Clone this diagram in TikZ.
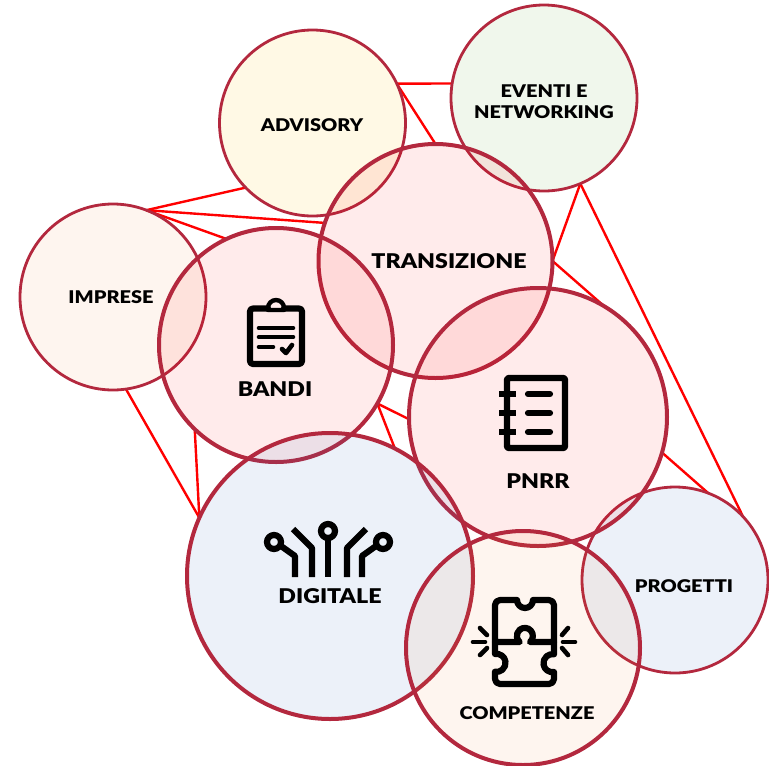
\documentclass[tikz,border=0pt]{standalone}
\usepackage{fontspec}
\setmainfont{Lato}[BoldFont={Lato Black},BoldFeatures={FakeStretch=1.14}]
\definecolor{ringc}{HTML}{B3283E}
\definecolor{linkc}{HTML}{FF0000}
\definecolor{fillred}{HTML}{FF0000}
\definecolor{fillgold}{HTML}{FFC000}
\definecolor{fillgreen}{HTML}{70AD47}
\definecolor{fillorange}{HTML}{ED7D31}
\definecolor{fillblue}{HTML}{4472C4}
\tikzset{
  ball/.style={circle,draw=ringc,outer sep=0pt,inner sep=0pt,fill opacity=.1},
  thinball/.style={ball,line width=2.8pt},
  thickball/.style={ball,line width=4pt},
  link/.style={draw=linkc,line width=2.4pt},
  small/.style={font=\fontsize{17.5}{21}\selectfont\bfseries,align=center,text=black,inner sep=0pt},
  big/.style={font=\fontsize{20.3}{24}\selectfont\bfseries,align=center,text=black,inner sep=0pt},
  icon/.style={draw=black,line width=6.2pt,line cap=round,line join=round},
  iconb/.style={icon,line cap=butt},
  icont/.style={icon,line width=4.6pt},
}
\begin{document}
\begin{tikzpicture}[x=1pt,y=-1pt]
\useasboundingbox (0,0) rectangle (769,766);
\foreach \n/\x/\y/\r in {adv/312.5/123/93,eve/544/98/93,tra/435.5/261/117,imp/113/297/93,ban/276/345/117,pnr/538/417/129,dig/330/576/143,com/523/648/117,pro/675/580/93}
  \node[circle,outer sep=0pt,inner sep=0pt,minimum size=2*\r pt] (\n) at (\x,\y) {};
\draw[link] (adv.25.9) -- (eve.171.4);
\draw[link] (adv.25.9) -- (tra.90);
\draw[link] (imp.69.2) -- (adv.224.3);
\draw[link] (imp.69.2) -- (tra.161.5);
\draw[link] (imp.69.2) -- (ban.115.3);
\draw[link] (eve.-67.8) -- (tra.-0.5);
\draw[link] (eve.-67.8) -- (pro.43.7);
\draw[link] (tra.-0.5) -- (pnr.59.1);
\draw[link] (ban.-30.2) -- (pnr.181);
\draw[link] (ban.-30.2) -- (dig.63.1);
\draw[link] (ban.226.4) -- (dig.156.3);
\draw[link] (imp.-82.6) -- (dig.156.3);
\draw[link] (pnr.-16) -- (pro.69);
% circles
\node[thinball,fill=fillgold,minimum size=186pt] (advc) at (adv) {};
\node[thinball,fill=fillgreen,minimum size=186pt] (evec) at (eve) {};
\node[thinball,fill=fillorange,fill opacity=.08,minimum size=186pt] (impc) at (imp) {};
\node[thinball,fill=fillblue,minimum size=186pt] (proc) at (pro) {};
\node[thickball,fill=fillred,fill opacity=.08,minimum size=234pt] (trac) at (tra) {};
\node[thickball,fill=fillred,fill opacity=.08,minimum size=234pt] (banc) at (ban) {};
\node[thickball,fill=fillred,fill opacity=.08,minimum size=258pt] (pnrc) at (pnr) {};
\node[thickball,fill=fillblue,minimum size=286pt] (digc) at (dig) {};
\node[thickball,fill=fillorange,fill opacity=.08,minimum size=234pt] (comc) at (com) {};
% labels
\node[small] (ladv) at (312,125) {ADVISORY};
\node[small] (leve) at (544,101.5) {EVENTI E\\NETWORKING};
\node[small] (limp) at (111,297) {IMPRESE};
\node[small] (lpro) at (684,586) {PROGETTI};
\node[small] (lcom) at (527,713) {COMPETENZE};
\node[big] (ltra) at (449,261) {TRANSIZIONE};
\node[big] (lban) at (275,389) {BANDI};
\node[big] (lpnr) at (538,481) {PNRR};
\node[big] (ldig) at (330,596) {DIGITALE};
% clipboard icon
\draw[icon,rounded corners=3pt] (268,308.5) -- (250,308.5) -- (250,364) -- (302,364) -- (302,308.5) -- (284,308.5);
\draw[icon,line width=4.4pt] (268,310) -- (268,308) arc[start angle=180,end angle=360,radius=8] -- (284,310) -- cycle;
\draw[icont] (259,328) -- (293,328);
\draw[icont] (259,337) -- (293,337);
\draw[icont] (259,347) -- (273,347);
\draw[icont] (282,349) -- (286,353) -- (292,345);
% notebook icon
\draw[icon,line width=6.4pt,rounded corners=2pt] (507,378) rectangle (565,448);
\foreach \yy in {394,413,432}{
  \draw[iconb] (499,\yy) -- (516,\yy);
  \draw[icon] (528,\yy) -- (550,\yy);
}
% circuit icon
\draw[icon] (328,531) circle[radius=7];
\draw[iconb] (328,538) -- (328,577);
\draw[icon] (274,542) circle[radius=7];
\draw[iconb,line join=round] (281,546) -- (295,556) -- (295,577);
\draw[icon] (383,542) circle[radius=7];
\draw[iconb,line join=round] (376,546) -- (362,556) -- (362,577);
\draw[iconb,line join=round] (293,529) -- (312,548) -- (312,577);
\draw[iconb,line join=round] (366,529) -- (347,548) -- (347,577);
% puzzle icon
\draw[icon] (533,600) -- (549,600) arc[start angle=270,end angle=360,radius=5] -- (554,642) -- (530,642)
  arc[start angle=50,end angle=-230,radius=8] -- (495,642) -- (495,605) arc[start angle=180,end angle=270,radius=5] -- (517,600)
  arc[start angle=180,end angle=0,radius=8] -- cycle;
\draw[icon] (495,642) -- (495,654) arc[start angle=-100,end angle=100,radius=9] -- (495,679)
  arc[start angle=180,end angle=90,radius=5] -- (549,684) arc[start angle=90,end angle=0,radius=5] -- (554,672)
  arc[start angle=80,end angle=280,radius=9] -- (554,642);
\foreach \ax/\ay/\bx/\by in {473/642/485/642,480/628/487/635,480/655/487/648,563/642/575/642,568/628/562/635,562/648/568/655}
  \draw[icont] (\ax,\ay) -- (\bx,\by);
\end{tikzpicture}
\end{document}
